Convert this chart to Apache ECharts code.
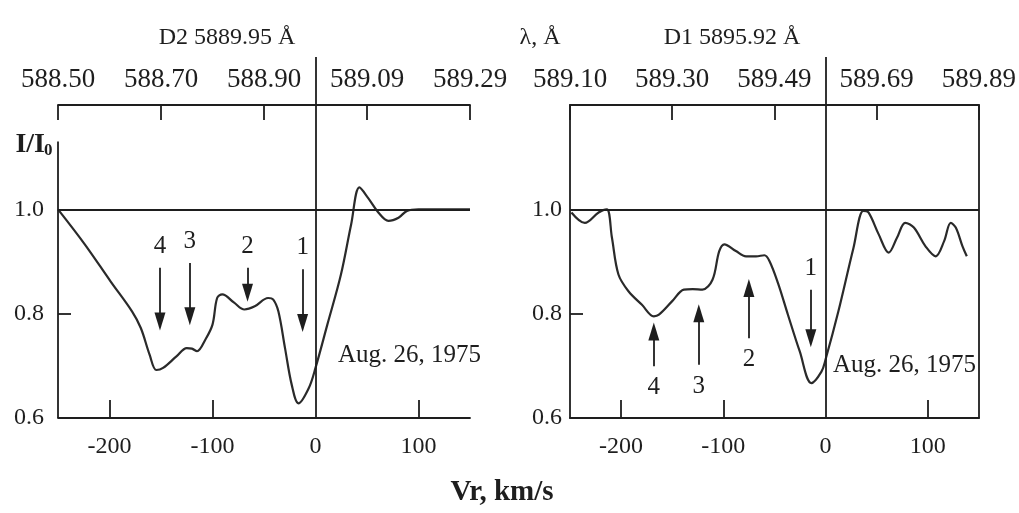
<!DOCTYPE html>
<html>
<head>
<meta charset="utf-8">
<script src="https://cdn.jsdelivr.net/npm/echarts@6/dist/echarts.min.js"></script>
<style>
  html, body { margin: 0; padding: 0; background: #fff; }
  #chart { width: 1019px; height: 513px; }
</style>
</head>
<body>
<div id="chart"></div>
<script>
// D2 line profile (velocity km/s, I/I0)
const velD2 = [-250, -224, -199, -178, -169.5, -161, -154.5, -148, -135, -125, -120, -115, -107, -100, -95.5, -90.5, -79, -69, -59, -46, -41, -36, -29.6, -23, -16.5, -6.6, 0, 11.5, 24.7, 34.6, 42.7, 51, 61, 70.8, 80.6, 88.8, 100, 150];
const intD2 = [1.0, 0.933, 0.862, 0.804, 0.772, 0.721, 0.692, 0.696, 0.718, 0.734, 0.733, 0.728, 0.75, 0.779, 0.83, 0.837, 0.821, 0.808, 0.814, 0.83, 0.827, 0.804, 0.734, 0.663, 0.628, 0.657, 0.696, 0.779, 0.875, 0.971, 1.042, 1.022, 0.994, 0.978, 0.984, 0.997, 1.0, 1.0];

// D1 line profile
const velD1 = [-248.6, -235.5, -222, -214, -209, -202.6, -192.8, -179.6, -168, -163, -150, -138.6, -130, -120.5, -110.6, -104, -99, -87.7, -77.8, -68, -59.8, -54.9, -46.6, -36.8, -25.3, -13.8, -4, 0, 12.5, 27.3, 37, 42, 52, 61.8, 70, 78, 86.4, 97.8, 107.7, 116, 122.5, 127.4, 134, 138.2];
const intD1 = [0.994, 0.974, 0.994, 1.0, 0.946, 0.875, 0.843, 0.817, 0.795, 0.798, 0.824, 0.846, 0.847, 0.846, 0.865, 0.92, 0.933, 0.92, 0.91, 0.91, 0.912, 0.901, 0.859, 0.798, 0.728, 0.667, 0.689, 0.712, 0.804, 0.926, 0.997, 0.994, 0.952, 0.917, 0.946, 0.974, 0.965, 0.929, 0.91, 0.939, 0.974, 0.965, 0.929, 0.91];

// axis ticks and labels
const velTicks = [-200, -100, 100];
const velLabels = [-200, -100, 0, 100];
const topTicks = [-250, -150, -50, 50, 150];
const waveD2 = ['588.50', '588.70', '588.90', '589.09', '589.29'];
const waveD1 = ['589.10', '589.30', '589.49', '589.69', '589.89'];
const intLabels = [0.6, 0.8, 1.0];

// arrows (components 4..1)
const arrowNames = ['4', '3', '2', '1'];
const arrowD2X = [-151, -122, -66, -12.5];
const arrowD2From = [0.888, 0.897, 0.888, 0.885];
const arrowD2Tip = [0.769, 0.779, 0.824, 0.766];
const arrowD1X = [-168, -124, -75, -14.4];
const arrowD1From = [0.699, 0.702, 0.753, 0.846];
const arrowD1Tip = [0.782, 0.817, 0.865, 0.737];

const FONT = 'Liberation Serif';
const INK = '#1e1e1e';
const LW = 1.8;

function pairs(xs, ys) {
  return xs.map((x, i) => [x, ys[i]]);
}

// arrow = shaft + triangle head, number written at the tail
function arrowLines(xs, from, tip) {
  return xs.map((x, i) => {
    const dir = tip[i] > from[i] ? 1 : -1;
    return [
      { coord: [x, from[i]], name: arrowNames[i], symbol: 'none' },
      { coord: [x, tip[i] - dir * 0.016], symbol: 'triangle', symbolSize: [11, 18] }
    ];
  });
}

function bottomAxis(grid) {
  return {
    type: 'value', gridIndex: grid, position: 'bottom', min: -250, max: 150,
    axisLine: { show: true, onZero: false, lineStyle: { color: INK, width: LW } },
    axisTick: { show: true, inside: true, length: 18, customValues: velTicks, lineStyle: { color: INK, width: LW } },
    axisLabel: { customValues: velLabels, margin: 17, color: INK, fontFamily: FONT, fontSize: 24 },
    splitLine: { show: false }
  };
}

function topAxis(grid, names) {
  return {
    type: 'value', gridIndex: grid, position: 'top', min: -250, max: 150,
    axisLine: { show: true, onZero: false, lineStyle: { color: INK, width: LW } },
    axisTick: { show: true, inside: true, length: 15, customValues: topTicks, lineStyle: { color: INK, width: LW } },
    axisLabel: {
      customValues: topTicks, margin: 12, color: INK, fontFamily: FONT, fontSize: 27,
      formatter: v => names[topTicks.indexOf(v)]
    },
    splitLine: { show: false }
  };
}

function leftAxis(grid, lineShow, margin) {
  return {
    type: 'value', gridIndex: grid, position: 'left', min: 0.6, max: 1.2,
    axisLine: { show: lineShow, onZero: false, lineStyle: { color: INK, width: LW } },
    axisTick: { show: true, inside: true, length: 13, customValues: [0.8], lineStyle: { color: INK, width: LW } },
    axisLabel: {
      customValues: intLabels, margin: margin, color: INK, fontFamily: FONT, fontSize: 24,
      formatter: v => v.toFixed(1)
    },
    splitLine: { show: false }
  };
}

function hiddenX(grid) {
  return { type: 'value', gridIndex: grid, min: -250, max: 150, show: false };
}
function hiddenY(grid) {
  return { type: 'value', gridIndex: grid, min: 0, max: 1, show: false };
}

const lineStyleRule = { color: INK, width: LW, type: 'solid' };

const arrowLabel = { show: true, position: 'start', distance: 9, color: INK, fontFamily: FONT, fontSize: 25, formatter: '{b}' };

const chart = echarts.init(document.getElementById('chart'));

const option = {
  backgroundColor: '#fff',
  animation: false,
  grid: [
    { left: 58, right: 549, top: 105, bottom: 95 },
    { left: 570, right: 40, top: 105, bottom: 95 },
    { left: 58, right: 549, top: 57, bottom: 95 },
    { left: 570, right: 40, top: 57, bottom: 95 }
  ],
  xAxis: [
    bottomAxis(0), topAxis(0, waveD2),
    bottomAxis(1), topAxis(1, waveD1),
    hiddenX(2), hiddenX(3)
  ],
  yAxis: [
    leftAxis(0, false, 14),
    leftAxis(1, true, 8),
    {
      type: 'value', gridIndex: 1, position: 'right', min: 0.6, max: 1.2,
      axisLine: { show: true, onZero: false, lineStyle: { color: INK, width: LW } },
      axisTick: { show: false }, axisLabel: { show: false }, splitLine: { show: false }
    },
    hiddenY(2), hiddenY(3)
  ],
  series: [
    {
      name: 'D2', type: 'line', xAxisIndex: 0, yAxisIndex: 0,
      data: pairs(velD2, intD2), smooth: 0.35, showSymbol: false,
      lineStyle: { color: '#2a2a2a', width: 2.2 }, z: 3,
      markLine: {
        silent: true, symbol: ['none', 'none'], label: { show: false }, lineStyle: lineStyleRule,
        data: [
          { yAxis: 1.0 },
          [{ coord: [-250, 0.6] }, { coord: [-250, 1.13] }]
        ]
      }
    },
    {
      name: 'D2 arrows', type: 'line', xAxisIndex: 0, yAxisIndex: 0, data: [],
      markLine: {
        silent: true, symbol: ['none', 'none'], label: arrowLabel,
        lineStyle: { color: INK, width: 1.8, type: 'solid' },
        data: arrowLines(arrowD2X, arrowD2From, arrowD2Tip)
      }
    },
    {
      name: 'D1', type: 'line', xAxisIndex: 2, yAxisIndex: 1,
      data: pairs(velD1, intD1), smooth: 0.35, showSymbol: false,
      lineStyle: { color: '#2a2a2a', width: 2.2 }, z: 3,
      markLine: {
        silent: true, symbol: ['none', 'none'], label: { show: false }, lineStyle: lineStyleRule,
        data: [{ yAxis: 1.0 }]
      }
    },
    {
      name: 'D1 arrows', type: 'line', xAxisIndex: 2, yAxisIndex: 1, data: [],
      markLine: {
        silent: true, symbol: ['none', 'none'], label: arrowLabel,
        lineStyle: { color: INK, width: 1.8, type: 'solid' },
        data: arrowLines(arrowD1X, arrowD1From, arrowD1Tip)
      }
    },
    {
      name: 'zero D2', type: 'line', xAxisIndex: 4, yAxisIndex: 3, data: [],
      markLine: {
        silent: true, symbol: ['none', 'none'], label: { show: false }, lineStyle: lineStyleRule,
        data: [{ xAxis: 0 }]
      }
    },
    {
      name: 'zero D1', type: 'line', xAxisIndex: 5, yAxisIndex: 4, data: [],
      markLine: {
        silent: true, symbol: ['none', 'none'], label: { show: false }, lineStyle: lineStyleRule,
        data: [{ xAxis: 0 }]
      }
    }
  ],
  graphic: [
    { type: 'text', x: 227, y: 38, style: { text: 'D2 5889.95 Å', fill: INK, fontFamily: FONT, fontSize: 24, align: 'center', verticalAlign: 'middle' } },
    { type: 'text', x: 540, y: 38, style: { text: 'λ, Å', fill: INK, fontFamily: FONT, fontSize: 24, align: 'center', verticalAlign: 'middle' } },
    { type: 'text', x: 732, y: 38, style: { text: 'D1 5895.92 Å', fill: INK, fontFamily: FONT, fontSize: 24, align: 'center', verticalAlign: 'middle' } },
    { type: 'text', x: 45, y: 145, style: { text: 'I/I', fill: INK, fontFamily: FONT, fontSize: 28, fontWeight: 'bold', align: 'right', verticalAlign: 'middle' } },
    { type: 'text', x: 44, y: 151, style: { text: '0', fill: INK, fontFamily: FONT, fontSize: 17, fontWeight: 'bold', align: 'left', verticalAlign: 'middle' } },
    { type: 'text', x: 338, y: 355, style: { text: 'Aug. 26, 1975', fill: INK, fontFamily: FONT, fontSize: 25, align: 'left', verticalAlign: 'middle' } },
    { type: 'text', x: 833, y: 365, style: { text: 'Aug. 26, 1975', fill: INK, fontFamily: FONT, fontSize: 25, align: 'left', verticalAlign: 'middle' } },
    { type: 'text', x: 502, y: 493, style: { text: 'Vr, km/s', fill: INK, fontFamily: FONT, fontSize: 29, fontWeight: 'bold', align: 'center', verticalAlign: 'middle' } }
  ]
};

chart.setOption(option);
</script>
</body>
</html>
